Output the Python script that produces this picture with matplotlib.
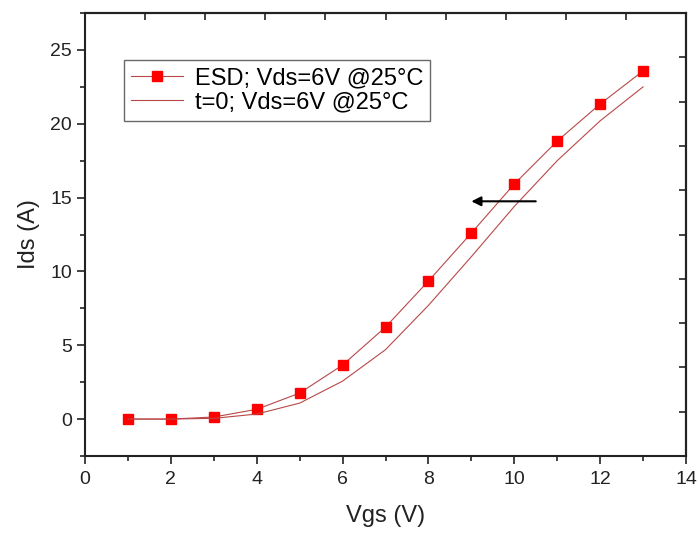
import numpy as np
import matplotlib
matplotlib.use("Agg")
import matplotlib.pyplot as plt
from matplotlib.ticker import MultipleLocator

plt.rcParams['font.family'] = ['Liberation Sans', 'DejaVu Sans']

vgs = [1, 2, 3, 4, 5, 6, 7, 8, 9, 10, 11, 12, 13]
ids_esd = [0.0, 0.0, 0.14, 0.66, 1.76, 3.66, 6.23, 9.35, 12.6, 15.92, 18.83, 21.34, 23.58]
ids_t0 = [0.0, 0.0, 0.05, 0.34, 1.08, 2.57, 4.7, 7.7, 11.0, 14.4, 17.5, 20.2, 22.5]

label_esd = "ESD; Vds=6V @25°C"
label_t0 = "t=0; Vds=6V @25°C"

fig = plt.figure(figsize=(6.98, 5.33), dpi=100)
ax = fig.add_axes([0.1218, 0.1445, 0.861, 0.831])

line_col = '#b84848'
ax.plot(vgs, ids_esd, color=line_col, lw=0.8, marker='s', markersize=7,
        markerfacecolor='#ff0000', markeredgecolor='#ff0000', label=label_esd)
ax.plot(vgs, ids_t0, color=line_col, lw=0.8, label=label_t0)

ax.annotate('', xy=(9.0, 14.75), xytext=(10.5, 14.75),
            arrowprops=dict(arrowstyle='-|>', color='black', lw=1.5,
                            mutation_scale=14, shrinkA=0, shrinkB=0))

ax.set_xlim(0, 14)
ax.set_ylim(-2.5, 27.5)
ax.xaxis.set_major_locator(MultipleLocator(2))
ax.xaxis.set_minor_locator(MultipleLocator(1))
ax.yaxis.set_major_locator(MultipleLocator(5))
ax.yaxis.set_minor_locator(MultipleLocator(2.5))
ax.tick_params(which='major', direction='out', length=6, width=1.2, labelsize=14,
               colors='#222222', labelcolor='#222222')
ax.tick_params(axis='x', which='major', pad=5)
ax.tick_params(which='minor', direction='out', length=3.5, width=1.2, colors='#222222')
for s in ax.spines.values():
    s.set_linewidth(1.5)
    s.set_color('#222222')

top = ax.secondary_xaxis('top')
top.set_xticks(np.linspace(0, 14, 11))
top.tick_params(direction='in', length=5, width=1.2, labeltop=False, colors='#222222')
top.spines['top'].set_linewidth(1.5)
right = ax.secondary_yaxis('right')
right.set_yticks(np.linspace(-2.5, 27.5, 11))
right.tick_params(direction='in', length=5, width=1.2, labelright=False, colors='#222222')
right.spines['right'].set_linewidth(1.5)

ax.set_xlabel('Vgs (V)', fontsize=17, color='#222222', labelpad=12)
ax.set_ylabel('Ids (A)', fontsize=17, color='#222222', labelpad=7)

leg = ax.legend(loc='upper left', bbox_to_anchor=(0.065, 0.894), fontsize=17,
                frameon=True, fancybox=False, edgecolor='#444444',
                handlelength=2.2, borderpad=0.3, labelspacing=0.1,
                handletextpad=0.5, borderaxespad=0)
leg.get_frame().set_linewidth(1.0)

fig.savefig('out.png', dpi=100)
